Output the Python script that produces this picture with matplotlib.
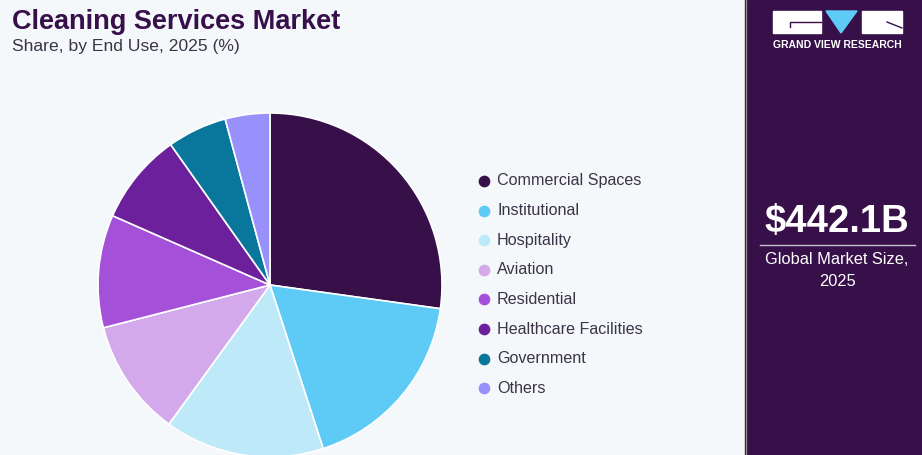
import matplotlib
matplotlib.use("Agg")
import matplotlib.pyplot as plt
from matplotlib.patches import Rectangle, Polygon

# share by end use, 2025 (%)
segments = ["Commercial Spaces", "Institutional", "Hospitality", "Aviation",
            "Residential", "Healthcare Facilities", "Government", "Others"]
shares = [27.2, 17.8, 15.0, 11.0, 10.6, 8.6, 5.6, 4.2]
colors = ["#37104a", "#5ecbf6", "#bde9f9", "#d4a9ec",
          "#a450d8", "#6c209b", "#08779b", "#9891fc"]

market_size = "$442.1B"

W, H = 922, 455
bg = "#f4f8fb"
purple = "#37104a"

fig = plt.figure(figsize=(W / 100, H / 100), dpi=100, facecolor=bg)
plt.rcParams['font.family'] = ['Liberation Sans', 'DejaVu Sans']

# base layer in pixel coords (y from top)
base = fig.add_axes([0, 0, 1, 1])
base.set_xlim(0, W)
base.set_ylim(H, 0)
base.axis('off')

# right panel
base.add_patch(Rectangle((745, 0), W - 745, H, color=purple, zorder=1))
base.plot([745.5, 745.5], [0, H], color="#8a8a8a", lw=1, zorder=2)

# logo
base.add_patch(Rectangle((773, 11), 48, 22, color="white", zorder=3))
base.plot([790, 790, 821], [27, 22, 22], color=purple, lw=1, zorder=4)
base.add_patch(Polygon([(826, 11), (857, 11), (841, 33)], color="#5ecbf6", zorder=3))
base.add_patch(Rectangle((862, 11), 40, 22, color="white", zorder=3))
base.plot([887, 902], [22, 28], color=purple, lw=1, zorder=4)
base.text(837, 45, "GRAND VIEW RESEARCH", color="white", fontsize=7.5,
          fontweight="bold", ha="center", va="center", zorder=3)

base.text(837, 222, market_size, color="white", fontsize=27.5, fontweight="bold",
          ha="center", va="center", zorder=3)
base.plot([760, 915], [245, 245], color="#c8c0d0", lw=1, zorder=3)
base.text(837, 260, "Global Market Size,", color="white", fontsize=11.8,
          ha="center", va="center", zorder=3)
base.text(837, 281, "2025", color="white", fontsize=11.8,
          ha="center", va="center", zorder=3)

# titles
base.text(12, 22, "Cleaning Services Market", color=purple, fontsize=19.5,
          fontweight="heavy", ha="left", va="center")
base.text(12, 47, "Share, by End Use, 2025 (%)", color="#3c3446", fontsize=12.6,
          ha="left", va="center")

# legend
for i, (name, c) in enumerate(zip(segments, colors)):
    y = 181 + i * 29.6
    base.scatter([484], [y], s=55, color=c, zorder=3)
    base.text(497, y, name, color="#3c3446", fontsize=11.6, ha="left", va="center")

# pie
r = 172
cx, cy = 270, 285
ax = fig.add_axes([(cx - r) / W, (H - cy - r) / H, 2 * r / W, 2 * r / H])
ax.pie(shares, colors=colors, startangle=90, counterclock=False, radius=1,
       wedgeprops=dict(edgecolor="white", linewidth=1.2))
ax.set_xlim(-1, 1)
ax.set_ylim(-1, 1)
ax.set_aspect('equal')
ax.axis('off')

fig.savefig("out.png", dpi=100, facecolor=bg)
